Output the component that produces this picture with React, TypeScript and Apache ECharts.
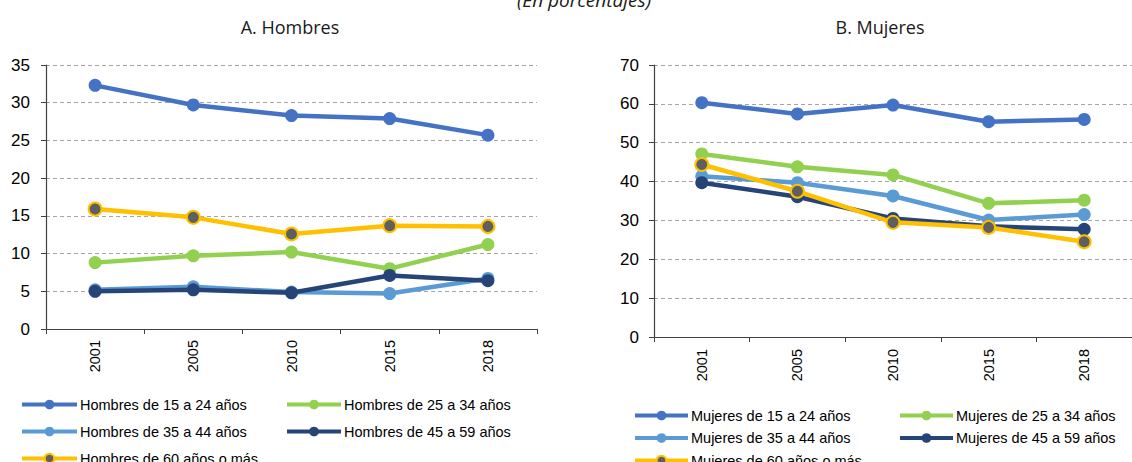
import React, { useEffect, useRef } from "react";
import * as echarts from "echarts";

// Survey years on the category axis
const years = ["2001", "2005", "2010", "2015", "2018"];

// Age groups (legend labels without the sex prefix)
const ageGroups = [
  "de 15 a 24 años",
  "de 25 a 34 años",
  "de 35 a 44 años",
  "de 45 a 59 años",
  "de 60 años o más",
];

// A. Hombres (percentages)
const hombres15a24 = [32.3, 29.7, 28.3, 27.9, 25.7];
const hombres25a34 = [8.8, 9.7, 10.2, 8.0, 11.2];
const hombres35a44 = [5.2, 5.6, 4.9, 4.7, 6.7];
const hombres45a59 = [5.0, 5.2, 4.8, 7.1, 6.4];
const hombres60mas = [15.9, 14.8, 12.6, 13.7, 13.6];

// B. Mujeres (percentages)
const mujeres15a24 = [60.3, 57.4, 59.7, 55.4, 56.0];
const mujeres25a34 = [47.1, 43.8, 41.7, 34.4, 35.2];
const mujeres35a44 = [41.4, 39.7, 36.3, 30.1, 31.5];
const mujeres45a59 = [39.7, 36.1, 30.5, 28.5, 27.7];
const mujeres60mas = [44.4, 37.5, 29.5, 28.2, 24.5];

// Y-axis ranges
const yMaxHombres = 35;
const yStepHombres = 5;
const yMaxMujeres = 70;
const yStepMujeres = 10;

const lineColors = ["#4472C4", "#92D050", "#5B9BD5", "#264478", "#FFC000"];
const olderMarkerFill = "#5F5F5F";

const SANS = "'Liberation Sans', Arial, sans-serif";
const TITLE_FONT = "'Open Sans', 'Noto Sans', sans-serif";

export default function App() {
  const ref = useRef<HTMLDivElement>(null);

  useEffect(() => {
    if (!ref.current) return;
    const chart = echarts.init(ref.current, undefined, { renderer: "svg" });

    const hombresData = [hombres15a24, hombres25a34, hombres35a44, hombres45a59, hombres60mas];
    const mujeresData = [mujeres15a24, mujeres25a34, mujeres35a44, mujeres45a59, mujeres60mas];
    const hombresNames = ageGroups.map((g) => `Hombres ${g}`);
    const mujeresNames = ageGroups.map((g) => `Mujeres ${g}`);

    const makeSeries = (names: string[], data: number[][], axis: number) =>
      names.map((name, i) => {
        const older = i === 4;
        return {
          type: "line" as const,
          name,
          xAxisIndex: axis,
          yAxisIndex: axis,
          data: data[i],
          symbol: "circle",
          symbolSize: 13,
          z: 2 + i,
          lineStyle: { color: lineColors[i], width: 4.5 },
          itemStyle: older
            ? { color: olderMarkerFill, borderColor: lineColors[i], borderWidth: 2 }
            : { color: lineColors[i], borderWidth: 0 },
          emphasis: { disabled: true },
        };
      });

    const xAxisBase = (gridIndex: number, margin: number) => ({
      type: "category" as const,
      gridIndex,
      data: years,
      boundaryGap: true,
      axisLine: { lineStyle: { color: "#404040", width: 1.2 } },
      axisTick: { show: true, length: 5, inside: false, lineStyle: { color: "#404040" } },
      axisLabel: {
        rotate: 90,
        margin,
        fontFamily: SANS,
        fontSize: 14.5,
        color: "#000",
      },
      splitLine: { show: false },
    });

    const yAxisBase = (gridIndex: number, max: number, step: number, margin: number) => ({
      type: "value" as const,
      gridIndex,
      min: 0,
      max,
      interval: step,
      axisLine: { show: true, lineStyle: { color: "#404040", width: 1.2 } },
      axisTick: { show: true, length: 5, lineStyle: { color: "#404040" } },
      axisLabel: { margin, fontFamily: SANS, fontSize: 17, color: "#000" },
      splitLine: { show: true, lineStyle: { color: "#A6A6A6", type: [4, 3], width: 1 } },
    });

    const legendBase = {
      orient: "vertical" as const,
      selectedMode: false,
      padding: 0,
      height: 120,
      itemHeight: 12,
      lineStyle: { width: 4 },
      textStyle: {
        fontFamily: SANS,
        fontSize: 14.5,
        color: "#000",
        lineHeight: 14,
        padding: [0, 0, 0, -2],
      },
    };

    chart.setOption({
      animation: false,
      grid: [
        { left: 46, top: 65, width: 491, height: 264 },
        { left: 654, top: 65, width: 490, height: 272 },
      ],
      xAxis: [xAxisBase(0, 11), xAxisBase(1, 12)],
      yAxis: [
        yAxisBase(0, yMaxHombres, yStepHombres, 16),
        yAxisBase(1, yMaxMujeres, yStepMujeres, 15),
      ],
      legend: [
        {
          ...legendBase,
          left: 20,
          top: 397,
          itemWidth: 55,
          itemGap: 12,
          data: [hombresNames[0], hombresNames[2], hombresNames[4]],
        },
        {
          ...legendBase,
          left: 285,
          top: 397,
          itemWidth: 54,
          itemGap: 12,
          data: [hombresNames[1], hombresNames[3]],
        },
        {
          ...legendBase,
          left: 633,
          top: 408,
          itemWidth: 53,
          itemGap: 7.5,
          data: [mujeresNames[0], mujeresNames[2], mujeresNames[4]],
        },
        {
          ...legendBase,
          left: 898,
          top: 408,
          itemWidth: 53,
          itemGap: 7.5,
          data: [mujeresNames[1], mujeresNames[3]],
        },
      ],
      graphic: [
        {
          type: "text",
          x: 584,
          y: 0,
          style: {
            text: "(En porcentajes)",
            fontFamily: TITLE_FONT,
            fontStyle: "italic",
            fontSize: 19,
            fill: "#1a1a1a",
            align: "center",
            verticalAlign: "middle",
          },
        },
        {
          type: "text",
          x: 290,
          y: 27,
          style: {
            text: "A. Hombres",
            fontFamily: TITLE_FONT,
            fontSize: 18,
            fill: "#1a1a1a",
            align: "center",
            verticalAlign: "middle",
          },
        },
        {
          type: "text",
          x: 880,
          y: 27,
          style: {
            text: "B. Mujeres",
            fontFamily: TITLE_FONT,
            fontSize: 18,
            fill: "#1a1a1a",
            align: "center",
            verticalAlign: "middle",
          },
        },
      ],
      series: [...makeSeries(hombresNames, hombresData, 0), ...makeSeries(mujeresNames, mujeresData, 1)],
    });

    return () => chart.dispose();
  }, []);

  return (
    <div
      ref={ref}
      style={{ position: "fixed", left: 0, top: 0, width: 1132, height: 462, background: "#fff" }}
    />
  );
}
